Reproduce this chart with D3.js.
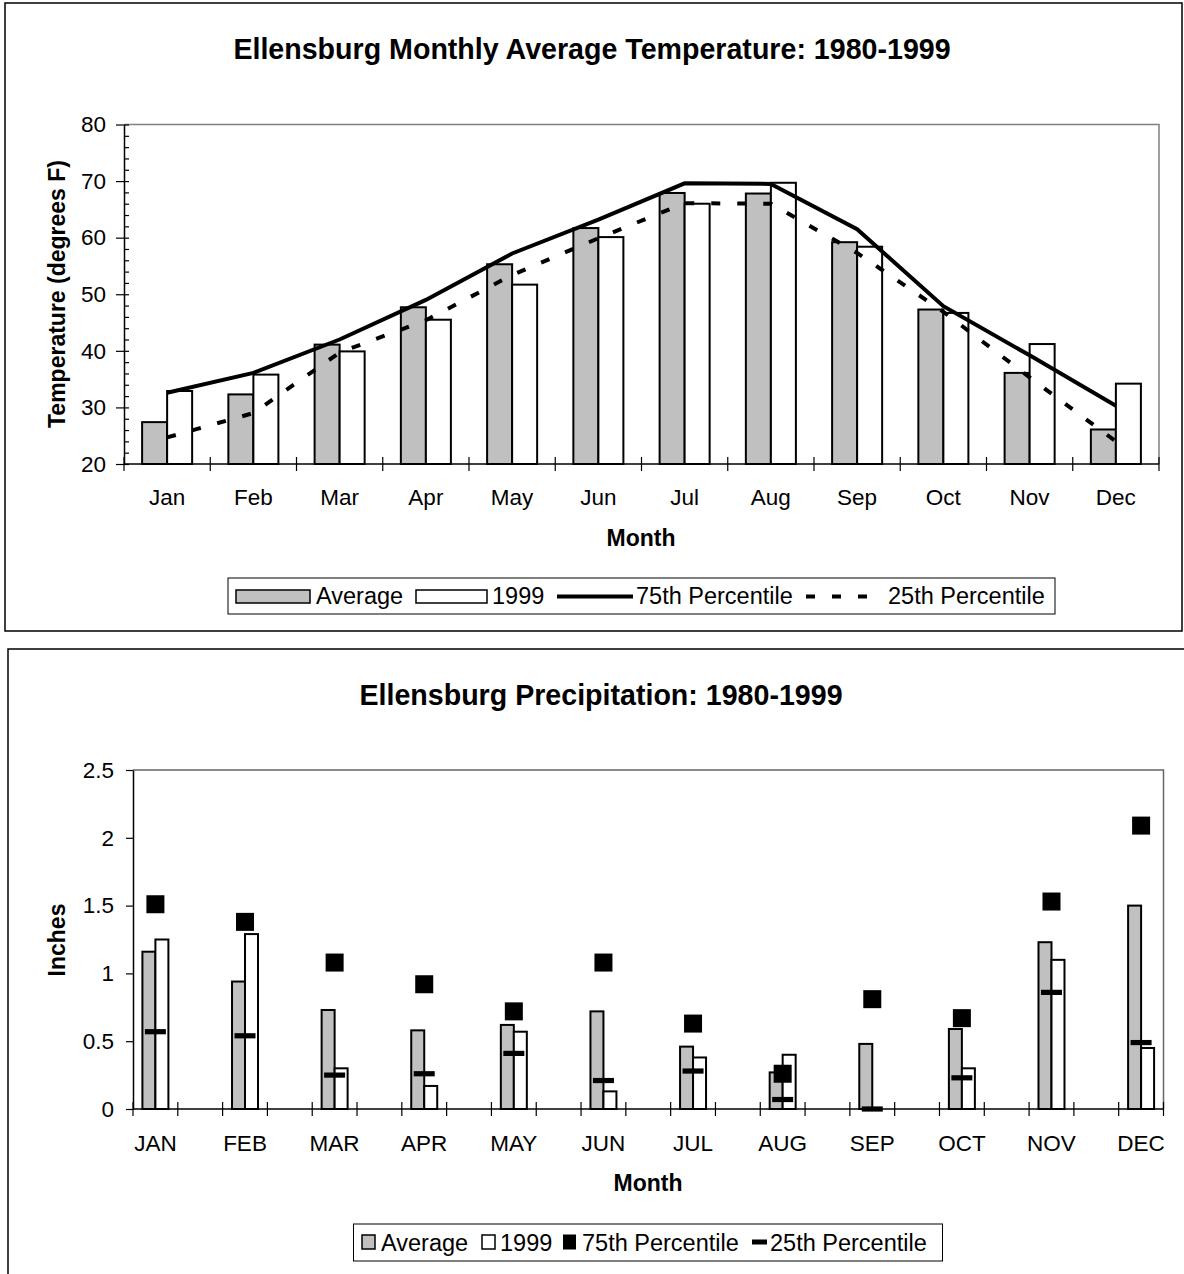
<!DOCTYPE html>
<html>
<head>
<meta charset="utf-8">
<script src="https://cdn.jsdelivr.net/npm/d3@7"></script>
<style>
  body { margin: 0; background: #fff; }
  svg { display: block; font-family: "Liberation Sans", Arial, sans-serif; }
</style>
</head>
<body>
<script>
// temperature chart data (degrees F)
var months = ["Jan", "Feb", "Mar", "Apr", "May", "Jun", "Jul", "Aug", "Sep", "Oct", "Nov", "Dec"];
var avgTemp = [27.4, 32.3, 41.1, 47.7, 55.3, 61.7, 67.9, 67.8, 59.2, 47.3, 36.1, 26.1];
var temp1999 = [32.9, 35.8, 39.9, 45.5, 51.7, 60.1, 66.0, 69.7, 58.4, 46.7, 41.2, 34.2];
var p75Temp = [32.6, 36.1, 42.0, 49.0, 57.2, 63.2, 69.6, 69.5, 61.5, 47.9, 39.2, 30.3];
var p25Temp = [24.7, 29.0, 39.7, 45.4, 53.4, 59.9, 66.1, 66.0, 57.3, 46.9, 35.3, 24.0];
var tempTicks = [20, 30, 40, 50, 60, 70, 80];

// precipitation chart data (inches)
var monthsUpper = ["JAN", "FEB", "MAR", "APR", "MAY", "JUN", "JUL", "AUG", "SEP", "OCT", "NOV", "DEC"];
var avgPrecip = [1.16, 0.94, 0.73, 0.58, 0.62, 0.72, 0.46, 0.27, 0.48, 0.59, 1.23, 1.50];
var precip1999 = [1.25, 1.29, 0.30, 0.17, 0.57, 0.13, 0.38, 0.40, 0.00, 0.30, 1.10, 0.45];
var p75Precip = [1.51, 1.38, 1.08, 0.92, 0.72, 1.08, 0.63, 0.26, 0.81, 0.67, 1.53, 2.09];
var p25Precip = [0.57, 0.54, 0.25, 0.26, 0.41, 0.21, 0.28, 0.07, 0.00, 0.23, 0.86, 0.49];
var precipTicks = [0, 0.5, 1, 1.5, 2, 2.5];

var width = 1184, height = 1274;
var svg = d3.select("body").append("svg")
    .attr("width", width).attr("height", height);

svg.append("rect").attr("width", width).attr("height", height).attr("fill", "#fff");

// ---------- top chart: temperature ----------
var gTemp = svg.append("g");
gTemp.append("rect")
    .attr("x", 5).attr("y", 3).attr("width", 1177).attr("height", 628)
    .attr("fill", "none").attr("stroke", "#000").attr("stroke-width", 1.5);

gTemp.append("text")
    .attr("x", 592).attr("y", 59)
    .attr("text-anchor", "middle")
    .attr("font-size", 28.6).attr("font-weight", "bold")
    .text("Ellensburg Monthly Average Temperature: 1980-1999");

var xT = d3.scaleBand().domain(months).range([124, 1159]);
var yT = d3.scaleLinear().domain([20, 80]).range([464, 124.5]);
var bwT = xT.bandwidth() * 0.29;
function cT(m) { return xT(m) + xT.bandwidth() / 2; }

// gray frame on top & right
gTemp.append("path")
    .attr("d", "M124," + yT(80) + "H1159V" + yT(20))
    .attr("fill", "none").attr("stroke", "#808080").attr("stroke-width", 1.5);

gTemp.selectAll("rect.avg")
    .data(months)
    .enter().append("rect")
    .attr("class", "avg")
    .attr("x", function(d) { return cT(d) - bwT; })
    .attr("y", function(d, i) { return yT(avgTemp[i]); })
    .attr("width", bwT)
    .attr("height", function(d, i) { return yT(20) - yT(avgTemp[i]); })
    .attr("fill", "#c0c0c0").attr("stroke", "#000").attr("stroke-width", 2);

gTemp.selectAll("rect.y1999")
    .data(months)
    .enter().append("rect")
    .attr("class", "y1999")
    .attr("x", function(d) { return cT(d); })
    .attr("y", function(d, i) { return yT(temp1999[i]); })
    .attr("width", bwT)
    .attr("height", function(d, i) { return yT(20) - yT(temp1999[i]); })
    .attr("fill", "#fff").attr("stroke", "#000").attr("stroke-width", 2);

var lineT = function(vals) {
  return d3.line()
    .x(function(d, i) { return cT(months[i]); })
    .y(function(d) { return yT(d); })(vals);
};
gTemp.append("path").attr("d", lineT(p75Temp))
    .attr("fill", "none").attr("stroke", "#000").attr("stroke-width", 4);
gTemp.append("path").attr("d", lineT(p25Temp))
    .attr("fill", "none").attr("stroke", "#000").attr("stroke-width", 4)
    .attr("stroke-dasharray", "9,17");

// y axis with outside major ticks and inside minor ticks
var yAxT = gTemp.append("g").attr("transform", "translate(124,0)")
    .call(d3.axisLeft(yT).tickValues(tempTicks).tickSizeInner(8).tickSizeOuter(0).tickPadding(10));
gTemp.append("g").attr("transform", "translate(124,0)")
    .call(d3.axisRight(yT).tickValues(d3.range(20, 81, 2)).tickSize(5).tickFormat(""))
    .select(".domain").remove();
yAxT.selectAll("text").attr("font-size", 22.5).attr("font-family", "Liberation Sans, Arial, sans-serif").attr("fill", "#000");
gTemp.selectAll(".tick line").attr("stroke", "#000").attr("stroke-width", 1.2);
yAxT.select(".domain").attr("stroke", "#000").attr("stroke-width", 1.5);

// x axis
gTemp.append("line").attr("x1", 124).attr("x2", 1159).attr("y1", yT(20)).attr("y2", yT(20))
    .attr("stroke", "#000").attr("stroke-width", 1.5);
gTemp.selectAll("line.xtick")
    .data(d3.range(months.length + 1))
    .enter().append("line")
    .attr("class", "xtick")
    .attr("x1", function(i) { return xT.range()[0] + i * xT.step(); })
    .attr("x2", function(i) { return xT.range()[0] + i * xT.step(); })
    .attr("y1", yT(20) - 7).attr("y2", yT(20) + 7)
    .attr("stroke", "#000").attr("stroke-width", 1.2);
gTemp.selectAll("text.xlab")
    .data(months)
    .enter().append("text")
    .attr("class", "xlab")
    .attr("x", cT).attr("y", 505)
    .attr("text-anchor", "middle").attr("font-size", 22.5)
    .text(function(d) { return d; });

gTemp.append("text").attr("x", 641).attr("y", 546)
    .attr("text-anchor", "middle").attr("font-size", 23).attr("font-weight", "bold")
    .text("Month");
gTemp.append("text")
    .attr("transform", "translate(65,294) rotate(-90)")
    .attr("text-anchor", "middle").attr("font-size", 23).attr("font-weight", "bold")
    .text("Temperature (degrees F)");

// legend
var legT = gTemp.append("g");
legT.append("rect").attr("x", 228).attr("y", 578).attr("width", 827).attr("height", 36)
    .attr("fill", "#fff").attr("stroke", "#000").attr("stroke-width", 1);
legT.append("rect").attr("x", 236).attr("y", 590).attr("width", 74).attr("height", 13)
    .attr("fill", "#c0c0c0").attr("stroke", "#000").attr("stroke-width", 1.5);
legT.append("rect").attr("x", 416).attr("y", 590).attr("width", 71).attr("height", 13)
    .attr("fill", "#fff").attr("stroke", "#000").attr("stroke-width", 1.5);
legT.append("line").attr("x1", 557).attr("x2", 633).attr("y1", 596.5).attr("y2", 596.5)
    .attr("stroke", "#000").attr("stroke-width", 4);
legT.append("line").attr("x1", 806).attr("x2", 870).attr("y1", 596.5).attr("y2", 596.5)
    .attr("stroke", "#000").attr("stroke-width", 4).attr("stroke-dasharray", "9,17");
var legTLabels = [["Average", 316], ["1999", 492], ["75th Percentile", 636], ["25th Percentile", 888]];
legT.selectAll("text")
    .data(legTLabels)
    .enter().append("text")
    .attr("x", function(d) { return d[1]; }).attr("y", 604)
    .attr("font-size", 23.5)
    .text(function(d) { return d[0]; });

// ---------- bottom chart: precipitation ----------
var gPrecip = svg.append("g");
gPrecip.append("rect")
    .attr("x", 8).attr("y", 649).attr("width", 1200).attr("height", 700)
    .attr("fill", "none").attr("stroke", "#000").attr("stroke-width", 1.5);

gPrecip.append("text")
    .attr("x", 601).attr("y", 705)
    .attr("text-anchor", "middle")
    .attr("font-size", 28.6).attr("font-weight", "bold")
    .text("Ellensburg Precipitation: 1980-1999");

// months with blank slots between them, as in the source sheet
var slots = [];
monthsUpper.forEach(function(m, i) {
  slots.push(m);
  if (i < monthsUpper.length - 1) slots.push("_" + i);
});
var xP = d3.scaleBand().domain(slots).range([133, 1163.5]);
var yP = d3.scaleLinear().domain([0, 2.5]).range([1109, 770]);
var bwP = xP.bandwidth() * 0.29;
function cP(m) { return xP(m) + xP.bandwidth() / 2; }

gPrecip.append("path")
    .attr("d", "M133," + yP(2.5) + "H1163.5V" + yP(0))
    .attr("fill", "none").attr("stroke", "#666").attr("stroke-width", 1.5);

gPrecip.selectAll("rect.avg")
    .data(monthsUpper)
    .enter().append("rect")
    .attr("class", "avg")
    .attr("x", function(d) { return cP(d) - bwP; })
    .attr("y", function(d, i) { return yP(avgPrecip[i]); })
    .attr("width", bwP)
    .attr("height", function(d, i) { return yP(0) - yP(avgPrecip[i]); })
    .attr("fill", "#c0c0c0").attr("stroke", "#000").attr("stroke-width", 2);

gPrecip.selectAll("rect.y1999")
    .data(monthsUpper.filter(function(d, i) { return precip1999[i] > 0; }))
    .enter().append("rect")
    .attr("class", "y1999")
    .attr("x", function(d) { return cP(d); })
    .attr("y", function(d) { return yP(precip1999[monthsUpper.indexOf(d)]); })
    .attr("width", bwP)
    .attr("height", function(d) { return yP(0) - yP(precip1999[monthsUpper.indexOf(d)]); })
    .attr("fill", "#fff").attr("stroke", "#000").attr("stroke-width", 2);

// y axis
var yAxP = gPrecip.append("g").attr("transform", "translate(133,0)")
    .call(d3.axisLeft(yP).tickValues(precipTicks).tickSizeInner(7).tickSizeOuter(0).tickPadding(12)
      .tickFormat(function(d) { return String(d); }));
yAxP.selectAll("text").attr("font-size", 22.5).attr("font-family", "Liberation Sans, Arial, sans-serif").attr("fill", "#000");
yAxP.selectAll(".tick line").attr("stroke", "#000").attr("stroke-width", 1.2);
yAxP.select(".domain").attr("stroke", "#000").attr("stroke-width", 1.5);

// x axis
gPrecip.append("line").attr("x1", 133).attr("x2", 1163.5).attr("y1", yP(0)).attr("y2", yP(0))
    .attr("stroke", "#000").attr("stroke-width", 1.5);
gPrecip.selectAll("line.xtick")
    .data(d3.range(slots.length + 1))
    .enter().append("line")
    .attr("class", "xtick")
    .attr("x1", function(i) { return xP.range()[0] + i * xP.step(); })
    .attr("x2", function(i) { return xP.range()[0] + i * xP.step(); })
    .attr("y1", yP(0) - 7).attr("y2", yP(0) + 7)
    .attr("stroke", "#000").attr("stroke-width", 1.2);

// percentile markers
gPrecip.selectAll("rect.p75")
    .data(monthsUpper)
    .enter().append("rect")
    .attr("class", "p75")
    .attr("x", function(d) { return cP(d) - 9; })
    .attr("y", function(d, i) { return yP(p75Precip[i]) - 9; })
    .attr("width", 18).attr("height", 18)
    .attr("fill", "#000");
gPrecip.selectAll("rect.p25")
    .data(monthsUpper)
    .enter().append("rect")
    .attr("class", "p25")
    .attr("x", function(d) { return cP(d) - 10.5; })
    .attr("y", function(d, i) { return yP(p25Precip[i]) - 2.6; })
    .attr("width", 21).attr("height", 5.2)
    .attr("fill", "#000");

gPrecip.selectAll("text.xlab")
    .data(monthsUpper)
    .enter().append("text")
    .attr("class", "xlab")
    .attr("x", cP).attr("y", 1151)
    .attr("text-anchor", "middle").attr("font-size", 22.5)
    .text(function(d) { return d; });

gPrecip.append("text").attr("x", 648).attr("y", 1191)
    .attr("text-anchor", "middle").attr("font-size", 23).attr("font-weight", "bold")
    .text("Month");
gPrecip.append("text")
    .attr("transform", "translate(65,940) rotate(-90)")
    .attr("text-anchor", "middle").attr("font-size", 23).attr("font-weight", "bold")
    .text("Inches");

// legend
var legP = gPrecip.append("g");
legP.append("rect").attr("x", 353.5).attr("y", 1224).attr("width", 589).attr("height", 37)
    .attr("fill", "#fff").attr("stroke", "#000").attr("stroke-width", 1);
legP.append("rect").attr("x", 362).attr("y", 1235).attr("width", 13).attr("height", 14)
    .attr("fill", "#c0c0c0").attr("stroke", "#000").attr("stroke-width", 1.5);
legP.append("rect").attr("x", 482).attr("y", 1235).attr("width", 13).attr("height", 14)
    .attr("fill", "#fff").attr("stroke", "#000").attr("stroke-width", 1.5);
legP.append("rect").attr("x", 563).attr("y", 1234.5).attr("width", 13).attr("height", 15)
    .attr("fill", "#000");
legP.append("rect").attr("x", 752).attr("y", 1239.5).attr("width", 15).attr("height", 5)
    .attr("fill", "#000");
var legPLabels = [["Average", 381], ["1999", 500], ["75th Percentile", 582], ["25th Percentile", 770]];
legP.selectAll("text")
    .data(legPLabels)
    .enter().append("text")
    .attr("x", function(d) { return d[1]; }).attr("y", 1250.5)
    .attr("font-size", 23.5)
    .text(function(d) { return d[0]; });
</script>
</body>
</html>
